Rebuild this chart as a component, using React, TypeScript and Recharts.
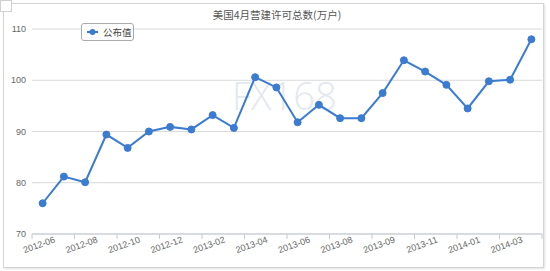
import React from 'react';
import { ComposedChart, Line, XAxis, YAxis, CartesianGrid, Legend } from 'recharts';

const categories = [
  '2012-06', '2012-07', '2012-08', '2012-09', '2012-10', '2012-11', '2012-12',
  '2013-01', '2013-02', '2013-03', '2013-04', '2013-05', '2013-06', '2013-07',
  '2013-08', '2013-08', '2013-09', '2013-10', '2013-11', '2013-12',
  '2014-01', '2014-02', '2014-03', '2014-04',
];
const values = [
  76.0, 81.2, 80.1, 89.4, 86.8, 90.0, 90.9, 90.4, 93.2, 90.7, 100.6, 98.6,
  91.8, 95.2, 92.6, 92.6, 97.5, 103.9, 101.7, 99.1, 94.5, 99.8, 100.1, 108.0,
];
const yTicks = [70, 80, 90, 100, 110];
const seriesName = '公布值';
const title = '美国4月营建许可总数(万户)';

const data = categories.map((c, i) => ({ month: c, value: values[i] }));

const LINE_COLOR = '#3b7bd0';
const AXIS_COLOR = '#c3cbd4';
const HALF_BAND = 510 / categories.length / 2;

const XTick = (props: any) => {
  const { x, y, payload } = props;
  const isLastShown = payload && payload.index === categories.length - 2;
  const tx = x + 13;
  const ty = y + 8;
  return (
    <g>
      <line x1={x - HALF_BAND} x2={x - HALF_BAND} y1={y} y2={y + 5} stroke={AXIS_COLOR} />
      {isLastShown && (
        <line x1={x + HALF_BAND * 3} x2={x + HALF_BAND * 3} y1={y} y2={y + 5} stroke={AXIS_COLOR} />
      )}
      <text
        x={tx}
        y={ty}
        textAnchor="end"
        fontSize={9}
        fill="#666"
        fontFamily="'Liberation Sans', Arial, sans-serif"
        transform={`rotate(-20 ${tx} ${ty})`}
      >
        {payload.value}
      </text>
    </g>
  );
};

const LegendBox = () => (
  <div
    style={{
      width: 53,
      height: 18,
      border: '1px solid #aaa',
      borderRadius: 3,
      background: '#fff',
      display: 'flex',
      alignItems: 'center',
      boxSizing: 'border-box',
      whiteSpace: 'nowrap',
    }}
  >
    <svg width={13} height={10} style={{ marginLeft: 4, flexShrink: 0 }}>
      <line x1={1} x2={12} y1={5} y2={5} stroke={LINE_COLOR} strokeWidth={2} />
      <circle cx={6.5} cy={5} r={3} fill={LINE_COLOR} />
    </svg>
    <span
      style={{
        fontSize: 9.5,
        color: '#444',
        fontFamily: "'Noto Sans CJK SC', sans-serif",
        marginLeft: 4,
        lineHeight: '14px',
      }}
    >
      {seriesName}
    </span>
  </div>
);

export default function App() {
  return (
    <div style={{ position: 'absolute', left: 0, top: 0, width: 550, height: 271, background: '#fff', overflow: 'hidden' }}>
      <div
        style={{
          position: 'absolute',
          left: 3,
          top: 3,
          width: 541,
          height: 265,
          border: '1px solid #d4d4d4',
          boxShadow: '1px 1px 2px rgba(0,0,0,0.12)',
          boxSizing: 'border-box',
        }}
      />
      <div
        style={{
          position: 'absolute',
          left: 0,
          top: 0,
          width: 12,
          height: 12,
          border: '1px solid #d0d0d0',
          background: '#fff',
          boxSizing: 'border-box',
        }}
      />
      <div
        style={{
          position: 'absolute',
          left: 232,
          top: 70,
          fontSize: 38,
          fontFamily: "'Open Sans', sans-serif",
          fontWeight: 300,
          color: '#e3e8f0',
          lineHeight: '50px',
        }}
      >
        FX168
      </div>
      <div style={{ position: 'absolute', left: 0, top: 0 }}>
        <ComposedChart width={550} height={271} data={data} margin={{ top: 29, right: 8, left: 0, bottom: 0 }}>
          <CartesianGrid horizontal vertical={false} stroke="#d9d9d9" />
          <XAxis
            dataKey="month"
            interval={1}
            tickLine={false}
            tickSize={0}
            tickMargin={0}
            height={37}
            padding={{ left: HALF_BAND, right: HALF_BAND }}
            axisLine={{ stroke: AXIS_COLOR }}
            tick={<XTick />}
          />
          <YAxis
            domain={[70, 110]}
            ticks={yTicks}
            width={32}
            axisLine={false}
            tickLine={false}
            tickSize={4}
            tickMargin={2}
            tick={{ fontSize: 9, fill: '#666', fontFamily: "'Liberation Sans', Arial, sans-serif" }}
          />
          <Legend
            layout="horizontal"
            verticalAlign="middle"
            align="center"
            wrapperStyle={{ left: 81, top: 23, width: 53, height: 18 }}
            content={<LegendBox />}
          />
          <Line
            type="linear"
            dataKey="value"
            name={seriesName}
            stroke={LINE_COLOR}
            strokeWidth={2}
            dot={{ r: 3.5, fill: LINE_COLOR, stroke: LINE_COLOR, strokeWidth: 1 }}
            isAnimationActive={false}
          />
        </ComposedChart>
      </div>
      <div
        style={{
          position: 'absolute',
          left: 0,
          width: 554,
          top: 8,
          textAlign: 'center',
          fontSize: 10.5,
          color: '#555',
          fontFamily: "'Noto Sans CJK SC', serif",
          lineHeight: '14px',
        }}
      >
        {title}
      </div>
    </div>
  );
}
